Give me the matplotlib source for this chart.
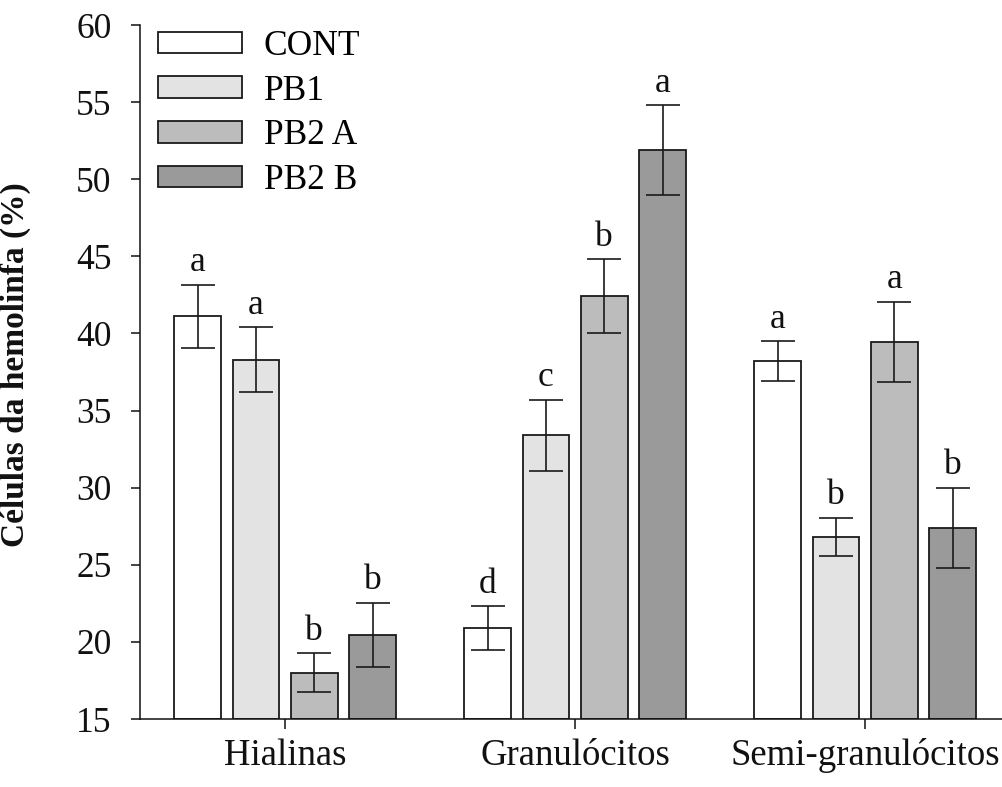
import matplotlib
matplotlib.use("Agg")
import matplotlib.pyplot as plt
import numpy as np

plt.rcParams['font.family'] = ['Liberation Serif', 'DejaVu Serif']

categories = ["Hialinas", "Granulócitos", "Semi-granulócitos"]
series = ["CONT", "PB1", "PB2 A", "PB2 B"]
colors = ["#ffffff", "#e3e3e3", "#bcbcbc", "#9a9a9a"]

cont = [41.1, 20.9, 38.2]
pb1 = [38.3, 33.4, 26.8]
pb2a = [18.0, 42.4, 39.45]
pb2b = [20.45, 51.9, 27.4]
values = [cont, pb1, pb2a, pb2b]

cont_err = [2.05, 1.4, 1.3]
pb1_err = [2.1, 2.3, 1.25]
pb2a_err = [1.25, 2.4, 2.6]
pb2b_err = [2.1, 2.9, 2.6]
errors = [cont_err, pb1_err, pb2a_err, pb2b_err]

cont_let = ["a", "d", "a"]
pb1_let = ["a", "c", "b"]
pb2a_let = ["b", "b", "a"]
pb2b_let = ["b", "a", "b"]
letters = [cont_let, pb1_let, pb2a_let, pb2b_let]

W, H = 1003, 787
fig = plt.figure(figsize=(W / 100, H / 100), dpi=100)
ax = fig.add_axes([140 / W, (H - 719) / H, (W - 140) / W, (719 - 25) / H])

x = np.arange(len(categories))
pitch = 0.201
width = 0.161
for i, (vals, errs, lets, col, name) in enumerate(zip(values, errors, letters, colors, series)):
    pos = x + (i - 1.5) * pitch
    ax.bar(pos, np.array(vals) - 15, bottom=15, width=width, color=col,
           edgecolor="#1a1a1a", linewidth=1.3, label=name, zorder=2)
    ax.errorbar(pos, vals, yerr=errs, fmt="none", ecolor="#1a1a1a",
                elinewidth=1.2, capsize=12, capthick=1.2, zorder=3)
    for p, v, e, l in zip(pos, vals, errs, lets):
        ax.annotate(l, (p, v + e), xytext=(0, 4), textcoords="offset points",
                    ha="center", va="bottom", fontsize=25.5, color="#111111")

ax.set_ylim(15, 60)
ax.set_xlim(-0.5, 2.475)
ax.set_yticks(np.arange(15, 61, 5))
ax.set_xticks(x)
ax.set_xticklabels(categories)
ax.tick_params(axis="y", direction="out", length=6.5, width=1.1, labelsize=25.5, pad=14, colors="#111111")
ax.tick_params(axis="x", direction="out", length=7, width=1.1, labelsize=26.5, pad=7, colors="#111111")
for s in ["top", "right"]:
    ax.spines[s].set_visible(False)
for s in ["left", "bottom"]:
    ax.spines[s].set_linewidth(1.1)
    ax.spines[s].set_color("#111111")

ax.set_ylabel("Células da hemolinfa (%)", fontsize=24, fontweight="bold", color="#111111")
ax.yaxis.set_label_coords(-0.126, 0.511)

leg = ax.legend(loc="upper left", bbox_to_anchor=(158 / W, 1 - 30 / H),
                bbox_transform=fig.transFigure, frameon=False, fontsize=25.5,
                handlelength=2.38, handleheight=0.55, handletextpad=0.6,
                labelspacing=0.33, borderpad=0, borderaxespad=0)

fig.savefig("out.png", dpi=100)
